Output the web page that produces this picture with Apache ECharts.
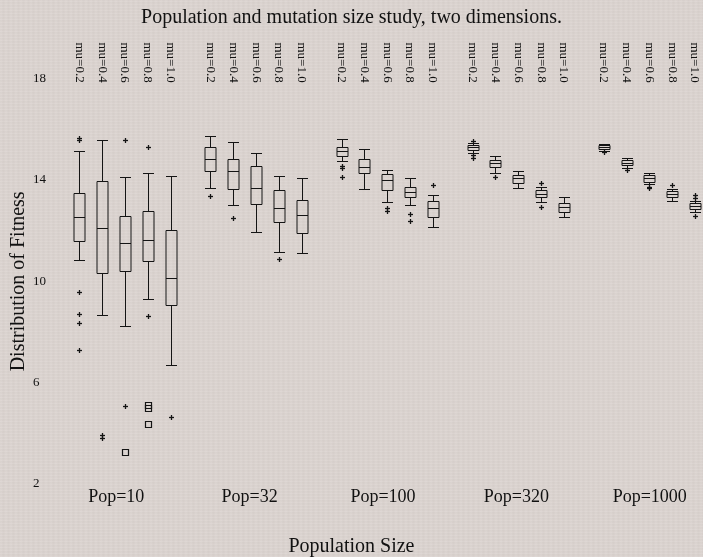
<!DOCTYPE html>
<html><head><meta charset="utf-8">
<script src="https://cdn.jsdelivr.net/npm/echarts@6/dist/echarts.min.js"></script>
<style>
html,body{margin:0;padding:0;}
body{width:703px;height:557px;background-color:#dbd3cf;
background-image:
 repeating-linear-gradient(0deg, rgba(255,255,255,0.06) 0px, rgba(255,255,255,0.06) 1px, rgba(0,0,0,0.025) 2px, rgba(0,0,0,0) 3px),
 repeating-linear-gradient(90deg, rgba(255,255,255,0.035) 0px, rgba(255,255,255,0.035) 2px, rgba(0,0,0,0.02) 3px, rgba(0,0,0,0) 5px);}
#main{width:703px;height:557px;}
</style></head>
<body><div id="main"></div>
<script>
const groups = ['Pop=10', 'Pop=32', 'Pop=100', 'Pop=320', 'Pop=1000'];
const muLabels = ['mu=0.2', 'mu=0.4', 'mu=0.6', 'mu=0.8', 'mu=1.0'];
const yTicks = [2, 6, 10, 14, 18];

// [lower whisker, Q1, median, Q3, upper whisker] for mu=0.2 .. mu=1.0
const pop10Stats = [
  [10.83, 11.61, 12.53, 13.48, 15.13],
  [8.66, 10.32, 12.09, 13.96, 15.57],
  [8.23, 10.40, 11.50, 12.57, 14.11],
  [9.29, 10.79, 11.63, 12.76, 14.26],
  [6.68, 9.07, 10.12, 12.03, 14.17]
];
const pop32Stats = [
  [13.70, 14.34, 14.84, 15.30, 15.75],
  [13.03, 13.66, 14.37, 14.83, 15.50],
  [11.96, 13.07, 13.70, 14.57, 15.08],
  [11.17, 12.33, 12.90, 13.59, 14.17],
  [11.13, 11.92, 12.61, 13.20, 14.07]
];
const pop100Stats = [
  [14.76, 14.94, 15.13, 15.32, 15.63],
  [13.63, 14.26, 14.51, 14.84, 15.21],
  [13.13, 13.59, 14.00, 14.23, 14.40],
  [13.00, 13.32, 13.53, 13.74, 14.07],
  [12.13, 12.55, 12.91, 13.17, 13.42]
];
const pop320Stats = [
  [15.08, 15.19, 15.30, 15.40, 15.45],
  [14.29, 14.50, 14.67, 14.78, 14.95],
  [13.67, 13.89, 14.07, 14.21, 14.37],
  [13.12, 13.32, 13.46, 13.61, 13.74],
  [12.55, 12.73, 12.92, 13.08, 13.34]
];
const pop1000Stats = [
  [15.15, 15.21, 15.32, 15.38, 15.42],
  [14.46, 14.58, 14.68, 14.79, 14.87],
  [13.83, 13.93, 14.07, 14.20, 14.29],
  [13.18, 13.34, 13.45, 13.58, 13.65],
  [12.73, 12.87, 12.99, 13.10, 13.18]
];

// outliers drawn as "+"
const pop10Outliers = [
  [15.58, 15.66, 9.59, 8.70, 8.37, 7.29],
  [3.80, 3.93],
  [15.57, 5.08],
  [15.32, 8.62],
  [4.66]
];
const pop32Outliers = [[13.36], [12.50], [], [10.89], []];
const pop100Outliers = [[14.55, 14.47, 14.11], [], [12.90, 12.76], [12.67, 12.37], [13.80]];
const pop320Outliers = [[15.54, 14.99, 14.87], [14.13], [], [13.87, 12.95], []];
const pop1000Outliers = [[15.09], [14.40], [13.74, 13.69], [13.79], [13.39, 13.28, 12.58]];

// far outliers drawn as squares
const pop10FarOutliers = [[], [], [3.25], [5.11, 5.00, 4.36], []];

const allStats = [pop10Stats, pop32Stats, pop100Stats, pop320Stats, pop1000Stats];
const allOutliers = [pop10Outliers, pop32Outliers, pop100Outliers, pop320Outliers, pop1000Outliers];
const allFar = [pop10FarOutliers, [[],[],[],[],[]], [[],[],[],[],[]], [[],[],[],[],[]], [[],[],[],[],[]]];

// layout
const GROUP_STEP = 5.75;
const LABEL_STEP = 5.85, LABEL_START = 1.62;
const BOX_W = 0.46;
const INK = '#141414';
const FONT = "'Liberation Serif', 'DejaVu Serif', serif";

const boxData = [], outData = [], muPos = [], muMap = {}, popPos = [], popMap = {};
allStats.forEach((g, gi) => {
  g.forEach((s, i) => {
    const u = gi * GROUP_STEP + i;
    boxData.push([u, s[0], s[1], s[2], s[3], s[4]]);
    muPos.push(u);
    muMap[u.toFixed(3)] = muLabels[i];
    allOutliers[gi][i].forEach(v => outData.push([u, v, 0]));
    allFar[gi][i].forEach(v => outData.push([u, v, 1]));
  });
  const lp = LABEL_START + gi * LABEL_STEP;
  popPos.push(lp);
  popMap[lp.toFixed(3)] = groups[gi];
});

const snap = v => Math.round(v) + 0.5;
const lineStyle = {stroke: INK, lineWidth: 1, fill: null};

function renderBox(params, api) {
  const x = api.value(0);
  const half = api.size([BOX_W, 0])[0] / 2;
  const p = [1, 2, 3, 4, 5].map(k => api.coord([x, api.value(k)]));
  const cx = snap(p[0][0]);
  const y = p.map(q => snap(q[1]));
  const l = Math.round(cx - half), r = Math.round(cx + half);
  const L = (x1, y1, x2, y2) => ({type: 'line', shape: {x1, y1, x2, y2}, style: lineStyle});
  return {type: 'group', children: [
    L(cx, y[0], cx, y[1]),
    L(cx, y[3], cx, y[4]),
    L(l, y[0], r, y[0]),
    L(l, y[4], r, y[4]),
    {type: 'rect', shape: {x: l, y: y[3], width: r - l, height: y[1] - y[3]}, style: lineStyle},
    L(l, y[2], r, y[2])
  ]};
}

function renderOut(params, api) {
  const c = api.coord([api.value(0), api.value(1)]);
  const cx = snap(c[0]), cy = snap(c[1]);
  if (api.value(2) === 1) {
    return {type: 'rect', shape: {x: cx - 3, y: cy - 3, width: 6, height: 6}, style: {stroke: INK, lineWidth: 1.2, fill: null}};
  }
  return {type: 'group', children: [
    {type: 'line', shape: {x1: cx - 2.5, y1: cy, x2: cx + 2.5, y2: cy}, style: {stroke: INK, lineWidth: 1.3}},
    {type: 'line', shape: {x1: cx, y1: cy - 2.5, x2: cx, y2: cy + 2.5}, style: {stroke: INK, lineWidth: 1.3}}
  ]};
}

const chart = echarts.init(document.getElementById('main'), null, {renderer: 'canvas'});
const X_MIN = -2.25, X_MAX = 27;
chart.setOption({
  backgroundColor: 'transparent',
  animation: false,
  title: {
    text: 'Population and mutation size study, two dimensions.',
    left: 'center', top: 3,
    textStyle: {fontFamily: FONT, fontSize: 20, fontWeight: 'normal', color: '#111'}
  },
  grid: {left: 28, right: 8.1, top: 78.7, bottom: 73, containLabel: false, outerBoundsMode: 'none'},
  xAxis: [
    {
      type: 'value', position: 'bottom', min: X_MIN, max: X_MAX,
      axisLine: {show: false}, axisTick: {show: false}, splitLine: {show: false},
      axisLabel: {
        customValues: popPos,
        formatter: v => popMap[Number(v).toFixed(3)] || '',
        margin: 4, fontFamily: FONT, fontSize: 18, color: '#111'
      },
      name: 'Population Size', nameLocation: 'middle', nameGap: 53, nameMoveOverlap: false,
      nameTextStyle: {fontFamily: FONT, fontSize: 20, color: '#111', padding: [0, 20, 0, 0]}
    },
    {
      type: 'value', position: 'top', min: X_MIN, max: X_MAX,
      axisLine: {show: false}, axisTick: {show: false}, splitLine: {show: false},
      axisLabel: {
        customValues: muPos,
        formatter: v => muMap[Number(v).toFixed(3)] || '',
        rotate: 90, margin: -4, fontFamily: FONT, fontSize: 13, color: '#111'
      }
    }
  ],
  yAxis: {
    type: 'value', min: 2, max: 18,
    axisLine: {show: false}, axisTick: {show: false}, splitLine: {show: false},
    axisLabel: {customValues: yTicks, inside: true, margin: 5, fontFamily: FONT, fontSize: 13, color: '#111'},
    name: 'Distribution of Fitness', nameLocation: 'middle', nameGap: -1, nameRotate: 90, nameMoveOverlap: false,
    nameTextStyle: {fontFamily: FONT, fontSize: 20, color: '#111'}
  },
  series: [
    {type: 'custom', xAxisIndex: 0, renderItem: renderBox, data: boxData,
     encode: {x: 0, y: [1, 2, 3, 4, 5]}, clip: false, silent: true},
    {type: 'custom', xAxisIndex: 0, renderItem: renderOut, data: outData,
     encode: {x: 0, y: 1}, clip: false, silent: true}
  ]
});
</script>
</body></html>
